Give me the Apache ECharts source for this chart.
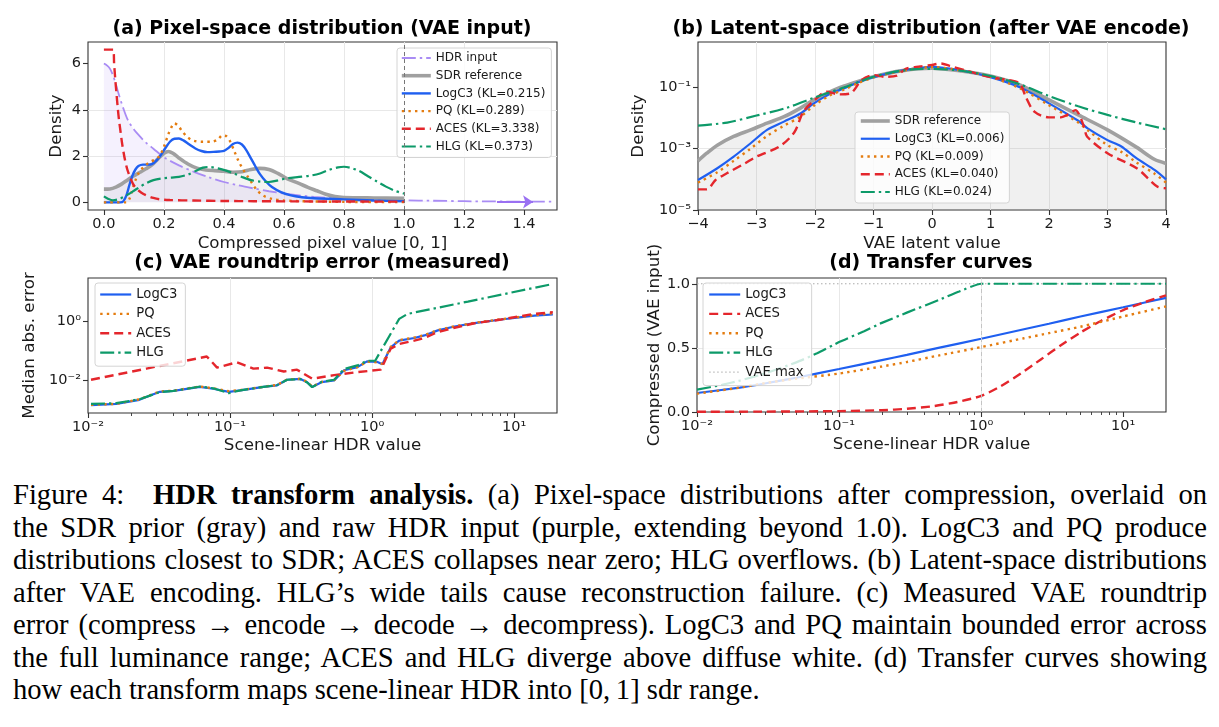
<!DOCTYPE html>
<html lang="en">
<head>
<meta charset="UTF-8">
<title>Figure 4: HDR transform analysis</title>
<script src="https://cdn.jsdelivr.net/npm/echarts@6.0.0/dist/echarts.min.js"></script>
<style>
  html, body { margin: 0; padding: 0; background: #fff; }
  #main { position: absolute; left: 0; top: 0; width: 1219px; height: 470px; }
  #caption { position: absolute; left: 13px; top: 479px; width: 1194px;
             font-family: 'Liberation Serif', 'Times New Roman', serif;
             font-size: 28.6px; line-height: 32.5px; color: #000; }
  #caption div { white-space: nowrap; }
</style>
</head>
<body>
<div id="main"></div>
<div id="caption"></div>

<script type="text/javascript">
// (a) pixel-space densities, [compressed value, density]
var pixHdr = [[0,6.0],[0.01,5.92],[0.02,5.78],[0.03,5.5],[0.04,5.1],[0.05,4.65],[0.065,4.05],[0.08,3.55],[0.1,3.15],[0.12,2.85],[0.14,2.58],[0.165,2.32],[0.2,1.95],[0.25,1.6],[0.3,1.32],[0.35,1.08],[0.4,0.88],[0.45,0.73],[0.5,0.6],[0.55,0.48],[0.6,0.38],[0.65,0.3],[0.7,0.24],[0.8,0.16],[0.9,0.12],[1.0,0.09],[1.1,0.07],[1.2,0.05],[1.3,0.04],[1.4,0.03],[1.5,0.03]];
var pixSdr = [[0,0.57],[0.02,0.58],[0.04,0.66],[0.06,0.8],[0.08,0.98],[0.1,1.15],[0.12,1.3],[0.14,1.45],[0.16,1.62],[0.18,1.88],[0.2,2.12],[0.215,2.2],[0.23,2.12],[0.25,1.92],[0.28,1.66],[0.31,1.48],[0.34,1.4],[0.37,1.37],[0.4,1.35],[0.43,1.3],[0.46,1.32],[0.49,1.42],[0.52,1.47],[0.55,1.42],[0.58,1.25],[0.61,1.03],[0.65,0.82],[0.68,0.65],[0.71,0.5],[0.74,0.35],[0.77,0.25],[0.8,0.21],[0.9,0.19],[1.0,0.18]];
var pixLogc3 = [[0,0],[0.055,0],[0.065,0.05],[0.075,0.3],[0.085,0.75],[0.095,1.15],[0.105,1.42],[0.115,1.57],[0.13,1.63],[0.145,1.63],[0.16,1.65],[0.175,1.8],[0.19,2.05],[0.205,2.35],[0.22,2.62],[0.235,2.75],[0.25,2.76],[0.265,2.68],[0.285,2.5],[0.305,2.33],[0.325,2.22],[0.345,2.17],[0.365,2.18],[0.385,2.2],[0.4,2.22],[0.415,2.35],[0.43,2.52],[0.445,2.58],[0.46,2.5],[0.475,2.25],[0.49,1.9],[0.505,1.55],[0.52,1.22],[0.54,0.9],[0.56,0.66],[0.59,0.44],[0.62,0.31],[0.66,0.22],[0.7,0.18],[0.8,0.13],[0.9,0.08],[1.0,0.05]];
var pixPq = [[0,0],[0.075,0],[0.085,0.15],[0.095,0.55],[0.105,0.95],[0.115,1.25],[0.13,1.5],[0.15,1.72],[0.17,1.85],[0.185,2.0],[0.2,2.4],[0.215,2.95],[0.228,3.32],[0.235,3.42],[0.248,3.3],[0.262,3.05],[0.28,2.8],[0.3,2.66],[0.33,2.62],[0.36,2.62],[0.38,2.72],[0.395,2.9],[0.408,2.86],[0.42,2.65],[0.435,2.2],[0.45,1.75],[0.465,1.4],[0.48,1.1],[0.495,0.8],[0.51,0.53],[0.53,0.3],[0.56,0.15],[0.6,0.08],[0.7,0.04],[0.8,0.02],[1.0,0.01]];
var pixAces = [[0,6.6],[0.031,6.6],[0.034,6.0],[0.038,5.3],[0.042,4.7],[0.046,4.1],[0.05,3.6],[0.055,3.1],[0.06,2.6],[0.065,2.2],[0.07,1.85],[0.078,1.42],[0.087,1.1],[0.097,0.8],[0.109,0.59],[0.125,0.42],[0.142,0.3],[0.165,0.19],[0.187,0.13],[0.22,0.1],[0.3,0.08],[0.4,0.06],[0.5,0.05],[0.7,0.04],[1.0,0.03]];
var pixHlg = [[0,0.26],[0.015,0.15],[0.03,0.09],[0.05,0.14],[0.075,0.3],[0.1,0.5],[0.12,0.67],[0.14,0.82],[0.165,0.96],[0.19,1.03],[0.215,1.06],[0.25,1.1],[0.28,1.2],[0.305,1.35],[0.33,1.5],[0.35,1.53],[0.38,1.47],[0.41,1.36],[0.435,1.24],[0.46,1.1],[0.49,0.96],[0.52,0.9],[0.55,0.88],[0.58,0.95],[0.61,1.04],[0.65,1.1],[0.69,1.16],[0.72,1.25],[0.75,1.4],[0.78,1.51],[0.8,1.54],[0.82,1.5],[0.85,1.36],[0.88,1.13],[0.91,0.9],[0.94,0.68],[0.97,0.5],[1.0,0.38]];
var hdrArrow = [[1.31, 0.02], [1.43, 0.02]];

// (b) latent-space densities, [latent value, density]
var latSdr = [[-4,4.0e-4],[-3.85,7.1e-4],[-3.67,1.3e-3],[-3.39,2.5e-3],[-3.1,4.1e-3],[-2.82,6.8e-3],[-2.53,1.1e-2],[-2.25,2.1e-2],[-2.02,3.9e-2],[-1.68,8.1e-2],[-1.5,0.11],[-1,0.22],[-0.5,0.35],[0,0.42],[0.5,0.34],[1,0.234],[1.5,0.12],[2,0.039],[2.5,0.0126],[3,0.0041],[3.5,1.1e-3],[3.8,4.5e-4],[4,3.3e-4]];
var latLogc3 = [[-4,9.5e-5],[-3.67,2.3e-4],[-3.39,5.5e-4],[-3.1,1.5e-3],[-2.82,4.1e-3],[-2.53,7.6e-3],[-2.25,1.4e-2],[-2.02,3.0e-2],[-1.75,6.0e-2],[-1.5,9.3e-2],[-1.25,0.15],[-1,0.214],[-0.5,0.355],[0,0.468],[0.5,0.355],[1,0.214],[1.5,0.1],[2,3.0e-2],[2.5,8.1e-3],[2.66,4.6e-3],[3,1.9e-3],[3.23,1.2e-3],[3.5,4.8e-4],[3.81,2.0e-4],[4,1.0e-4]];
var latPq = [[-4,7.8e-5],[-3.67,1.7e-4],[-3.39,4.0e-4],[-3.1,1.0e-3],[-2.82,2.6e-3],[-2.53,5.6e-3],[-2.25,1.1e-2],[-2.02,2.5e-2],[-1.75,5.4e-2],[-1.5,8.5e-2],[-1.25,0.14],[-1,0.21],[-0.5,0.347],[0,0.457],[0.5,0.355],[1,0.22],[1.5,0.093],[2,2.6e-2],[2.5,7.1e-3],[2.66,4.0e-3],[3,1.3e-3],[3.23,8.0e-4],[3.5,3.5e-4],[3.81,1.5e-4],[4,7.8e-5]];
var latAces = [[-4,4.7e-5],[-3.85,4.7e-5],[-3.7,9.5e-5],[-3.5,1.6e-4],[-3.2,3.3e-4],[-3,5.5e-4],[-2.6,1.2e-3],[-2.35,3.5e-3],[-2.2,1.6e-2],[-2,3.9e-2],[-1.8,7.2e-2],[-1.6,5.9e-2],[-1.4,6.3e-2],[-1.2,0.174],[-1,0.25],[-0.8,0.22],[-0.6,0.24],[-0.45,0.4],[-0.2,0.48],[0,0.537],[0.15,0.6],[0.3,0.5],[0.6,0.347],[1,0.214],[1.3,0.174],[1.5,0.135],[1.6,5.0e-2],[1.75,1.6e-2],[2,1.05e-2],[2.2,1.05e-2],[2.35,1.4e-2],[2.45,1.8e-2],[2.6,5.2e-3],[2.65,2.5e-3],[3,7.1e-4],[3.5,2.3e-4],[3.85,5.8e-5],[4,5.1e-5]];
var latHlg = [[-4,5.6e-3],[-3.5,7.1e-3],[-3,1.2e-2],[-2.5,2.1e-2],[-2,4.7e-2],[-1.5,0.1],[-1,0.22],[-0.5,0.355],[0,0.4],[0.5,0.347],[1,0.234],[1.5,0.126],[2,5.2e-2],[2.5,2.4e-2],[3,1.26e-2],[3.5,7.1e-3],[4,4.3e-3]];

// (c) measured roundtrip error, [scene-linear HDR, median abs. error]
var rtLogc3 = [[0.0105,0.00145],[0.0158,0.0016],[0.023,0.0022],[0.032,0.0041],[0.04,0.0044],[0.0615,0.006],[0.076,0.0052],[0.098,0.0041],[0.118,0.0046],[0.172,0.006],[0.214,0.0068],[0.252,0.0105],[0.313,0.0112],[0.349,0.0087],[0.378,0.006],[0.44,0.0087],[0.54,0.01],[0.634,0.022],[0.787,0.028],[0.92,0.044],[1.09,0.042],[1.18,0.035],[1.35,0.13],[1.55,0.22],[1.98,0.27],[2.33,0.33],[2.9,0.49],[3.8,0.66],[5.25,0.86],[8.1,1.14],[13.9,1.55],[18.7,1.68]];
var rtPq = [[0.0105,0.0015],[0.0158,0.0016],[0.023,0.0023],[0.032,0.0042],[0.04,0.0045],[0.0615,0.0062],[0.076,0.0054],[0.098,0.0043],[0.118,0.0047],[0.172,0.0061],[0.214,0.007],[0.252,0.0107],[0.313,0.0113],[0.349,0.0089],[0.378,0.0062],[0.44,0.0088],[0.54,0.0102],[0.634,0.021],[0.787,0.028],[0.92,0.043],[1.09,0.041],[1.18,0.036],[1.35,0.135],[1.55,0.23],[1.98,0.28],[2.33,0.34],[2.9,0.5],[3.8,0.67],[5.25,0.88],[8.1,1.16],[13.9,1.6],[18.7,1.85]];
var rtAces = [[0.0105,0.0105],[0.0258,0.025],[0.0686,0.064],[0.081,0.027],[0.112,0.041],[0.146,0.025],[0.182,0.027],[0.239,0.02],[0.296,0.023],[0.378,0.0114],[0.54,0.015],[0.787,0.019],[1.15,0.023],[1.22,0.042],[1.35,0.117],[1.55,0.17],[1.98,0.22],[2.33,0.27],[2.9,0.43],[3.8,0.6],[5.25,0.85],[8.1,1.14],[13.9,1.77],[18.7,2.0]];
var rtHlg = [[0.0105,0.0016],[0.0158,0.0017],[0.023,0.0023],[0.032,0.004],[0.04,0.0044],[0.0615,0.0062],[0.076,0.0054],[0.098,0.0037],[0.118,0.0046],[0.172,0.006],[0.214,0.0069],[0.252,0.0105],[0.313,0.011],[0.349,0.0085],[0.378,0.0059],[0.44,0.0089],[0.54,0.0105],[0.634,0.024],[0.787,0.032],[0.92,0.046],[1.05,0.046],[1.55,1.2],[1.78,1.77],[4.72,4.6],[18.7,18.1]];

// (d) transfer curves, [scene-linear HDR, compressed]
var tfLogc3 = [[0.01,0.148],[0.02,0.19],[0.03,0.222],[0.05,0.267],[0.1,0.335],[0.2,0.405],[0.3,0.445],[0.5,0.5],[1,0.571],[2,0.645],[3,0.688],[5,0.745],[10,0.817],[20,0.89]];
var tfAces = [[0.01,0.002],[0.03,0.003],[0.1,0.007],[0.2,0.014],[0.3,0.025],[0.46,0.045],[0.68,0.078],[1,0.125],[1.37,0.2],[1.9,0.3],[2.63,0.41],[3.64,0.52],[5,0.62],[6.96,0.71],[10,0.795],[14,0.855],[20,0.91]];
var tfPq = [[0.01,0.143],[0.02,0.19],[0.03,0.225],[0.05,0.26],[0.1,0.3],[0.2,0.355],[0.3,0.39],[0.5,0.44],[1,0.506],[2,0.575],[3,0.615],[5,0.665],[10,0.745],[20,0.823]];
var tfHlg = [[0.01,0.174],[0.015,0.212],[0.02,0.245],[0.03,0.3],[0.05,0.387],[0.07,0.458],[0.1,0.545],[0.15,0.63],[0.2,0.695],[0.3,0.775],[0.5,0.872],[0.7,0.94],[1,1],[20,1]];
var vaeMax = [[0.01,1],[20,1]];

// ticks
var pixTicks = [0, 0.2, 0.4, 0.6, 0.8, 1.0, 1.2, 1.4];
var densTicks = [0, 2, 4, 6];
var latDensTicks = [1e-5, 1e-3, 1e-1];
var hdrTicks = [0.01, 0.1, 1, 10];
var hdrMinor = [0.02,0.03,0.04,0.05,0.06,0.07,0.08,0.09,0.2,0.3,0.4,0.5,0.6,0.7,0.8,0.9,2,3,4,5,6,7,8,9];
var errTicks = [0.01, 1];
var compTicks = [0, 0.5, 1.0];

var aNames = ['HDR input', 'SDR reference', 'LogC3 (KL=0.215)', 'PQ (KL=0.289)', 'ACES (KL=3.338)', 'HLG (KL=0.373)'];
var bNames = ['SDR reference', 'LogC3 (KL=0.006)', 'PQ (KL=0.009)', 'ACES (KL=0.040)', 'HLG (KL=0.024)'];
var cNames = ['LogC3', 'PQ', 'ACES', 'HLG'];
var dNames = ['LogC3', 'ACES', 'PQ', 'HLG', 'VAE max'];

var captionLines = [
    'Figure 4:&nbsp; <b>HDR transform analysis.</b> (a) Pixel-space distributions after compression, overlaid on',
    'the SDR prior (gray) and raw HDR input (purple, extending beyond 1.0). LogC3 and PQ produce',
    'distributions closest to SDR; ACES collapses near zero; HLG overflows. (b) Latent-space distributions',
    'after VAE encoding. HLG\u2019s wide tails cause reconstruction failure. (c) Measured VAE roundtrip',
    'error (compress \u2192 encode \u2192 decode \u2192 decompress). LogC3 and PQ maintain bounded error across',
    'the full luminance range; ACES and HLG diverge above diffuse white. (d) Transfer curves showing',
    'how each transform maps scene-linear HDR into [0,&thinsp;1] sdr range.'
];

var FONT = 'DejaVu Sans';
var INK = '#1a1a1a';
var COL = {blue: '#1f5ff0', orange: '#e47c10', red: '#e4262c', green: '#0d9a69', purple: '#a98cf4', gray: '#a0a0a0'};
var DASH = [9, 5];
var DOT = [2.4, 4.2];
var DASHDOT = [14, 4, 2.4, 4];

var SUP = {'-': '\u207b', '0': '\u2070', '1': '\u00b9', '2': '\u00b2', '3': '\u00b3', '4': '\u2074', '5': '\u2075'};
function pow10Label(v) {
    var e = String(Math.round(Math.log(v) / Math.LN10));
    return '10' + e.split('').map(function (c) { return SUP[c]; }).join('');
}
function minusLabel(v) {
    return v < 0 ? '\u2212' + (-v) : String(v);
}

function baseAxis(o) {
    var ax = {
        axisLine: {show: false, onZero: false},
        axisTick: {show: true, inside: false, length: 5, lineStyle: {color: '#333', width: 1.1}},
        axisLabel: {color: INK, fontFamily: FONT, fontSize: 14.5, margin: 7, hideOverlap: false},
        splitLine: {show: true, showMinLine: false, showMaxLine: false, lineStyle: {color: '#e8e8e8', width: 1}},
        nameLocation: 'middle',
        nameMoveOverlap: false,
        nameTextStyle: {color: INK, fontFamily: FONT, fontSize: 16.7}
    };
    return echarts.util.merge(ax, o, true);
}
function minorAxis(gi) {
    return {
        type: 'log', logBase: 10, gridIndex: gi, min: 0.01, max: 20, position: 'bottom',
        axisLine: {show: false, onZero: false}, axisLabel: {show: false}, splitLine: {show: false},
        axisTick: {show: true, length: 3, customValues: hdrMinor, lineStyle: {color: '#333', width: 0.9}}
    };
}

function line(name, data, xi, yi, color, width, dash, extra) {
    var s = {
        type: 'line', name: name, data: data,
        xAxisIndex: xi, yAxisIndex: yi,
        symbol: 'none', showSymbol: false,
        smooth: 0.3,
        lineStyle: {color: color, width: width, type: dash || 'solid'},
        itemStyle: {color: color},
        emphasis: {disabled: true},
        animation: false
    };
    if (extra) {
        for (var k in extra) s[k] = extra[k];
    }
    return s;
}

function legendBox(names, left, top, fontSize, itemW, itemH, gap, pad) {
    return {
        orient: 'vertical', left: left, top: top, data: names,
        itemWidth: itemW, itemHeight: itemH, itemGap: gap, padding: pad,
        backgroundColor: 'rgba(255,255,255,0.8)', borderColor: '#d4d4d4', borderWidth: 1, borderRadius: 3,
        textStyle: {fontFamily: FONT, fontSize: fontSize, color: INK},
        itemStyle: {opacity: 0},
        lineStyle: {width: 'inherit'},
        selectedMode: false
    };
}

function titleAt(text, x, y) {
    return {
        text: text, left: x, top: y, textAlign: 'center', padding: 0,
        textStyle: {fontFamily: FONT, fontSize: 19, fontWeight: 'bold', color: '#000'}
    };
}

function gridAt(left, top, width, height) {
    return {left: left, top: top, width: width, height: height, show: true,
        borderColor: '#333', borderWidth: 1.1, backgroundColor: 'transparent', outerBoundsMode: 'none'};
}

var myChart = echarts.init(document.getElementById('main'));

var option = {
    backgroundColor: '#fff',
    animation: false,
    textStyle: {fontFamily: FONT},
    title: [
        titleAt('(a) Pixel-space distribution (VAE input)', 322, 20),
        titleAt('(b) Latent-space distribution (after VAE encode)', 931, 20),
        titleAt('(c) VAE roundtrip error (measured)', 322, 254),
        titleAt('(d) Transfer curves', 931, 254)
    ],
    grid: [
        gridAt(88, 42, 469, 168),
        gridAt(698, 42, 468, 168),
        gridAt(88, 278, 469, 135),
        gridAt(697, 278, 469, 134)
    ],
    xAxis: [
        baseAxis({type: 'value', gridIndex: 0, min: -0.053, max: 1.51, name: 'Compressed pixel value [0, 1]', nameGap: 25,
            axisTick: {customValues: pixTicks},
            axisLabel: {customValues: pixTicks, formatter: function (v) { return v.toFixed(1); }}}),
        baseAxis({type: 'value', gridIndex: 1, min: -4, max: 4, interval: 1, name: 'VAE latent value', nameGap: 25,
            axisLabel: {formatter: minusLabel}}),
        baseAxis({type: 'log', logBase: 10, gridIndex: 2, min: 0.01, max: 20, name: 'Scene-linear HDR value', nameGap: 24,
            axisTick: {customValues: hdrTicks},
            axisLabel: {customValues: hdrTicks, formatter: pow10Label}}),
        baseAxis({type: 'log', logBase: 10, gridIndex: 3, min: 0.01, max: 20, name: 'Scene-linear HDR value', nameGap: 24,
            axisTick: {customValues: hdrTicks},
            axisLabel: {customValues: hdrTicks, formatter: pow10Label}}),
        minorAxis(2),
        minorAxis(3)
    ],
    yAxis: [
        baseAxis({type: 'value', gridIndex: 0, min: -0.33, max: 6.93, name: 'Density', nameGap: 23,
            axisTick: {customValues: densTicks},
            axisLabel: {customValues: densTicks, formatter: function (v) { return String(v); }}}),
        baseAxis({type: 'log', logBase: 10, gridIndex: 1, min: 1e-5, max: 3, name: 'Density', nameGap: 51,
            axisTick: {customValues: latDensTicks},
            axisLabel: {customValues: latDensTicks, formatter: pow10Label}}),
        baseAxis({type: 'log', logBase: 10, gridIndex: 2, min: 7.9e-4, max: 28.8, name: 'Median abs. error', nameGap: 50,
            axisTick: {customValues: errTicks},
            axisLabel: {customValues: errTicks, formatter: pow10Label}}),
        baseAxis({type: 'value', gridIndex: 3, min: 0, max: 1.045, name: 'Compressed (VAE input)', nameGap: 34,
            axisTick: {customValues: compTicks},
            axisLabel: {customValues: compTicks, formatter: function (v) { return v.toFixed(1); }}})
    ],
    legend: [
        legendBox(aNames, 397, 48, 12, 29, 12, 5.7, [4, 6, 5, 3]),
        legendBox(bNames, 855, 112, 12, 29, 12, 5.75, [3, 5, 5, 4]),
        legendBox(cNames, 95, 283, 13.2, 31, 13, 6.4, [5, 8, 7, 4]),
        legendBox(dNames, 703, 283, 13.2, 31, 13, 6.4, [5, 8, 7, 5])
    ],
    series: [
        // (a)
        line('HDR input', pixHdr, 0, 0, COL.purple, 1.8, DASHDOT, {
            areaStyle: {color: 'rgba(167,139,250,0.17)'},
            markLine: {silent: true, symbol: ['none', 'arrow'], symbolSize: 10, label: {show: false},
                lineStyle: {color: '#9a70f2', type: 'solid', width: 2.2},
                data: [[{coord: hdrArrow[0]}, {coord: hdrArrow[1]}]]}
        }),
        line('SDR reference', pixSdr, 0, 0, COL.gray, 3.6, 'solid', {
            areaStyle: {color: 'rgba(150,150,150,0.17)'},
            markLine: {silent: true, symbol: ['none', 'none'], label: {show: false},
                lineStyle: {color: '#777', type: [4, 3], width: 1},
                data: [{xAxis: 1}]}
        }),
        line('LogC3 (KL=0.215)', pixLogc3, 0, 0, COL.blue, 2.4),
        line('PQ (KL=0.289)', pixPq, 0, 0, COL.orange, 2.4, DOT),
        line('ACES (KL=3.338)', pixAces, 0, 0, COL.red, 2.4, DASH),
        line('HLG (KL=0.373)', pixHlg, 0, 0, COL.green, 2.2, DASHDOT),
        // (b)
        line('SDR reference', latSdr, 1, 1, COL.gray, 3.6, 'solid', {
            areaStyle: {color: 'rgba(150,150,150,0.2)', origin: 'start'}
        }),
        line('LogC3 (KL=0.006)', latLogc3, 1, 1, COL.blue, 2.2),
        line('PQ (KL=0.009)', latPq, 1, 1, COL.orange, 2.4, DOT),
        line('ACES (KL=0.040)', latAces, 1, 1, COL.red, 2.4, DASH),
        line('HLG (KL=0.024)', latHlg, 1, 1, COL.green, 2.2, DASHDOT),
        // (c)
        line('LogC3', rtLogc3, 2, 2, COL.blue, 2.2, 'solid', {smooth: false}),
        line('PQ', rtPq, 2, 2, COL.orange, 2.4, DOT, {smooth: false}),
        line('ACES', rtAces, 2, 2, COL.red, 2.4, DASH, {smooth: false}),
        line('HLG', rtHlg, 2, 2, COL.green, 2.2, DASHDOT, {smooth: false}),
        // (d)
        line('LogC3', tfLogc3, 3, 3, COL.blue, 2.2, 'solid', {
            smooth: 0.2,
            markLine: {silent: true, symbol: ['none', 'none'], label: {show: false},
                lineStyle: {color: '#c4c4c4', type: [4, 3], width: 1},
                data: [{xAxis: 1}]}
        }),
        line('ACES', tfAces, 3, 3, COL.red, 2.4, DASH, {smooth: 0.2}),
        line('PQ', tfPq, 3, 3, COL.orange, 2.4, DOT, {smooth: 0.2}),
        line('HLG', tfHlg, 3, 3, COL.green, 2.2, DASHDOT, {smooth: 0.15}),
        line('VAE max', vaeMax, 3, 3, '#aaaaaa', 1, [1.5, 2.5], {smooth: false, z: 1})
    ]
};

myChart.setOption(option);

// caption: one justified block per printed line
var cap = document.getElementById('caption');
captionLines.forEach(function (html, i) {
    var row = document.createElement('div');
    var span = document.createElement('span');
    span.innerHTML = html;
    row.appendChild(span);
    cap.appendChild(row);
    if (i < captionLines.length - 1) {
        var gaps = (span.textContent.match(/[ \u00a0]/g) || []).length;
        var extra = (1194 - span.getBoundingClientRect().width) / gaps;
        span.style.wordSpacing = extra + 'px';
    }
});
</script>
</body>
</html>
